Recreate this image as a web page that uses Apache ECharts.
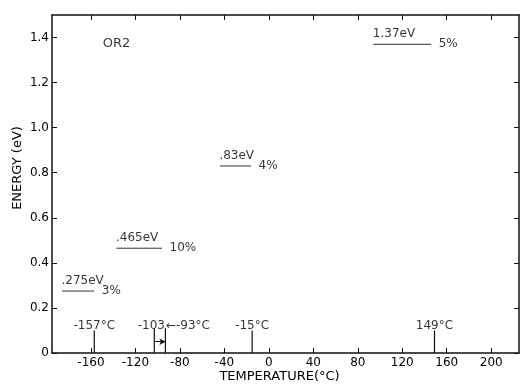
<!DOCTYPE html>
<html>
<head>
<meta charset="utf-8">
<script src="https://cdn.jsdelivr.net/npm/echarts@6/dist/echarts.min.js"></script>
<style>html,body{margin:0;padding:0;background:#fff}#c{width:520px;height:385px}</style>
</head>
<body>
<div id="c"></div>
<script>
// ---- data ----
var energies = [0.275, 0.465, 0.83, 1.37];
var energyLabels = ['.275eV', '.465eV', '.83eV', '1.37eV'];
var percents = ['3%', '10%', '4%', '5%'];
var segStart = [-186, -137, -44, 94];
var segEnd = [-157, -96, -16, 146];
var peakTemps = [-157, -103, -93, -15, 149];
var peakHeights = [0.1, 0.11, 0.11, 0.1, 0.1];
var peakLabels = ['-157°C', '-103', '←-93°C', '-15°C', '149°C'];
var xTicks = [-160, -120, -80, -40, 0, 40, 80, 120, 160, 200];
var yTicks = [0, 0.2, 0.4, 0.6, 0.8, 1.0, 1.2, 1.4];
var panelLabel = 'OR2';

var FONT = 'DejaVu Sans';
var TXT = '#000';
var chart = echarts.init(document.getElementById('c'), null, {renderer: 'canvas'});

var series = [];
// energy segments
energies.forEach(function (e, i) {
  series.push({
    type: 'line', silent: true, symbol: 'none',
    lineStyle: {color: '#333', width: 1},
    data: [[segStart[i], e], [segEnd[i], e]],
    z: 3
  });
});
// energy + percent labels
var labelData = [];
energies.forEach(function (e, i) {
  labelData.push({
    value: [segStart[i], e],
    label: {show: true, formatter: energyLabels[i], position: [0, -10], align: 'left', verticalAlign: 'middle'}
  });
  labelData.push({
    value: [segEnd[i], e],
    label: {show: true, formatter: percents[i], position: [8, 0], align: 'left', verticalAlign: 'middle'}
  });
});
series.push({
  type: 'scatter', symbolSize: 1, silent: true,
  itemStyle: {color: 'rgba(0,0,0,0)'},
  label: {color: TXT, fontFamily: FONT, fontSize: 12},
  data: labelData, z: 4
});
// peak markers
peakTemps.forEach(function (t, i) {
  series.push({
    type: 'line', silent: true, symbol: 'none',
    lineStyle: {color: '#111', width: 1.2},
    data: [[t, 0], [t, peakHeights[i]]],
    z: 3
  });
});
var peakLabelData = peakTemps.map(function (t, i) {
  var lab = {show: true, formatter: peakLabels[i], position: 'top', distance: -2};
  var v = [t, peakHeights[i]];
  if (i === 1) { v = [peakTemps[2], peakHeights[i]]; lab = {show: true, formatter: peakLabels[i], position: [0, -2], align: 'right', verticalAlign: 'middle'}; }
  if (i === 2) { lab = {show: true, formatter: peakLabels[i], position: [1, -2], align: 'left', verticalAlign: 'middle'}; }
  return {value: v, label: lab};
});
series.push({
  type: 'scatter', symbolSize: 1, silent: true,
  itemStyle: {color: 'rgba(0,0,0,0)'},
  label: {color: TXT, fontFamily: FONT, fontSize: 12},
  data: peakLabelData, z: 4,
  markLine: {
    silent: true, animation: false,
    symbol: ['none', 'arrow'], symbolSize: [5, 6],
    lineStyle: {color: '#111', width: 1, type: 'solid'},
    label: {show: false},
    data: [[{coord: [peakTemps[1], 0.05]}, {coord: [peakTemps[2], 0.05]}]]
  }
});
// panel label
series.push({
  type: 'scatter', symbolSize: 1, silent: true,
  itemStyle: {color: 'rgba(0,0,0,0)'},
  label: {show: true, color: TXT, fontFamily: FONT, fontSize: 13, position: [0, 0], align: 'left', verticalAlign: 'middle', formatter: panelLabel},
  data: [[-149, 1.37]], z: 4
});

var axisLineStyle = {color: '#111', width: 1.5};
chart.setOption({
  animation: false,
  backgroundColor: '#fff',
  grid: {left: 52, right: 1, top: 15, bottom: 32, containLabel: false, outerBoundsMode: 'none'},
  xAxis: [{
    type: 'value', min: -195, max: 225, position: 'bottom',
    name: 'TEMPERATURE(°C)', nameLocation: 'middle', nameGap: 17, nameMoveOverlap: false,
    nameTextStyle: {fontFamily: FONT, fontSize: 13, color: TXT, padding: [0, 12, 0, 0]},
    axisLine: {show: true, onZero: false, lineStyle: axisLineStyle},
    axisTick: {show: true, inside: true, length: 5, customValues: xTicks, lineStyle: {color: '#111'}},
    axisLabel: {customValues: xTicks, color: TXT, fontFamily: FONT, fontSize: 12, margin: 4},
    splitLine: {show: false}
  }, {
    type: 'value', min: -195, max: 225, position: 'top',
    axisLine: {show: true, onZero: false, lineStyle: axisLineStyle},
    axisTick: {show: true, inside: true, length: 5, customValues: xTicks, lineStyle: {color: '#111'}},
    axisLabel: {show: false},
    splitLine: {show: false}
  }],
  yAxis: [{
    type: 'value', min: 0, max: 1.5, position: 'left',
    name: 'ENERGY (eV)', nameLocation: 'middle', nameGap: 28, nameMoveOverlap: false,
    nameTextStyle: {fontFamily: FONT, fontSize: 13, color: TXT, padding: [0, 0, 0, 32]},
    axisLine: {show: true, onZero: false, lineStyle: axisLineStyle},
    axisTick: {show: true, inside: true, length: 5, customValues: yTicks, lineStyle: {color: '#111'}},
    axisLabel: {customValues: yTicks, color: TXT, fontFamily: FONT, fontSize: 12, margin: 3,
      formatter: function (v) { return v === 0 ? '0' : v.toFixed(1); }},
    splitLine: {show: false}
  }, {
    type: 'value', min: 0, max: 1.5, position: 'right',
    axisLine: {show: true, onZero: false, lineStyle: axisLineStyle},
    axisTick: {show: true, inside: true, length: 5, customValues: yTicks, lineStyle: {color: '#111'}},
    axisLabel: {show: false},
    splitLine: {show: false}
  }],
  series: series
});
</script>
</body>
</html>
